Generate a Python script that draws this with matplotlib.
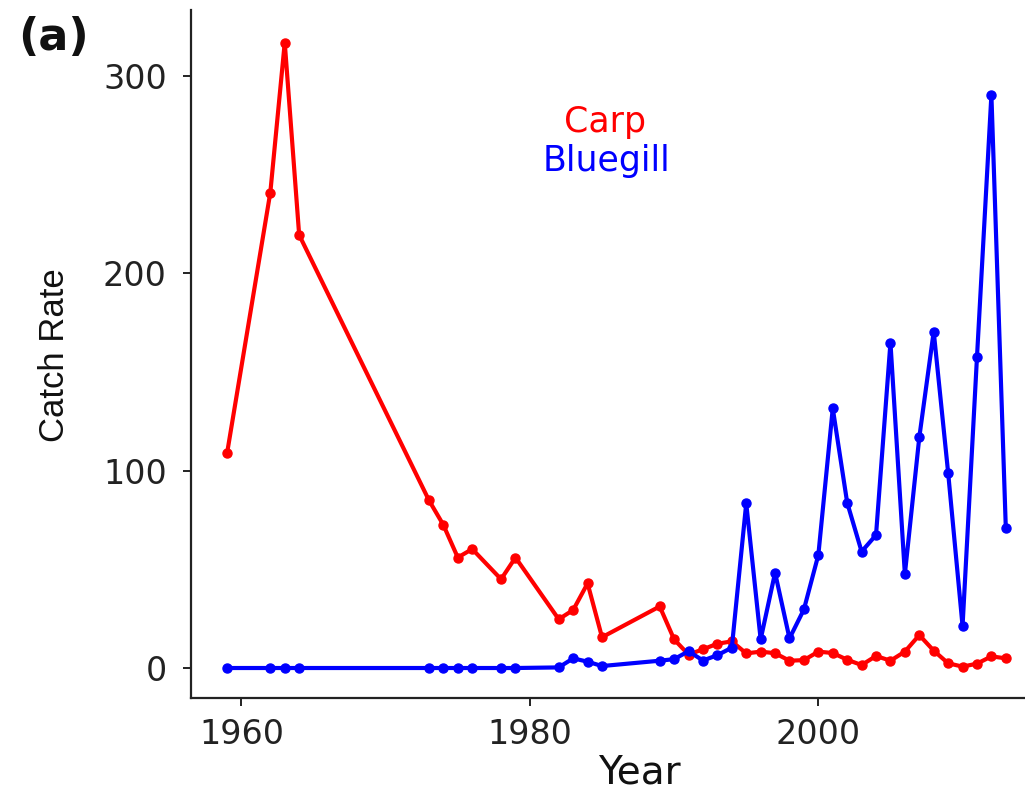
import matplotlib
matplotlib.use("Agg")
import matplotlib.pyplot as plt

years = [1959, 1962, 1963, 1964, 1973, 1974, 1975, 1976, 1978, 1979,
         1982, 1983, 1984, 1985, 1989, 1990, 1991, 1992, 1993, 1994,
         1995, 1996, 1997, 1998, 1999, 2000, 2001, 2002, 2003, 2004,
         2005, 2006, 2007, 2008, 2009, 2010, 2011, 2012, 2013]

carp = [108.8, 241, 317, 219.5, 85, 72.5, 56, 60.3, 45, 56,
        24.7, 29.4, 42.9, 15.6, 31.2, 14.5, 6.8, 9.5, 12.3, 13.5,
        7.4, 8.3, 7.5, 3.7, 4, 8.3, 7.6, 4.2, 1.5, 6.1,
        3.7, 8.3, 16.7, 8.8, 2.4, 0.7, 2.2, 5.9, 4.9]

bluegill = [0, 0, 0, 0, 0, 0, 0, 0, 0, 0,
            0.3, 4.9, 3.2, 1, 3.7, 4.5, 8.5, 3.8, 6.5, 10.3,
            83.5, 14.5, 48.3, 15, 29.7, 57.3, 131.6, 83.8, 59, 67.4,
            164.9, 47.6, 116.9, 170.5, 99, 21.3, 157.5, 290.4, 70.8]

y_ticks = [0, 100, 200, 300]
x_ticks = [1960, 1980, 2000]

W, H = 1025, 793
fig = plt.figure(figsize=(W / 100, H / 100), dpi=100)
ax = fig.add_axes([191 / W, (H - 698) / H, (W - 191) / W, (698 - 10) / H])

ax.plot(years, carp, color="#FF0000", lw=3.0, marker="o", ms=6.5,
        solid_joinstyle="round")
ax.plot(years, bluegill, color="#0000FF", lw=3.0, marker="o", ms=6.5,
        solid_joinstyle="round")

ax.set_xlim(1956.5, 2014.33)
ax.set_ylim(-15.2, 333.5)
ax.set_xticks(x_ticks)
ax.set_yticks(y_ticks)

for s in ["top", "right"]:
    ax.spines[s].set_visible(False)
for s in ["left", "bottom"]:
    ax.spines[s].set_color("#222222")
    ax.spines[s].set_linewidth(1.6)

ax.tick_params(axis="both", length=5.5, width=1.4, color="#222222",
               labelsize=24, labelcolor="#222222")
ax.tick_params(axis="y", pad=12)
ax.tick_params(axis="x", pad=9)
for lab in ax.get_xticklabels() + ax.get_yticklabels():
    lab.set_family("DejaVu Sans")

ax.set_xlabel("Year", fontsize=28, family="DejaVu Sans", color="#111111")
ax.xaxis.set_label_coords(639 / W, (H - 772) / H, transform=fig.transFigure)
ax.xaxis.label.set_va("center")
ax.set_ylabel("Catch Rate", fontsize=25, family="Liberation Sans", color="#111111")
ax.yaxis.set_label_coords(54 / W, (H - 355) / H, transform=fig.transFigure)
ax.yaxis.label.set_va("center")

fig.text(605 / W, (H - 122) / H, "Carp", color="#FF0000", fontsize=25,
         family="DejaVu Sans", ha="center", va="center")
fig.text(607 / W, (H - 161) / H, "Bluegill", color="#0000FF", fontsize=25,
         family="DejaVu Sans", ha="center", va="center")
fig.text(53 / W, (H - 37) / H, "(a)", color="#111111", fontsize=32,
         family="DejaVu Sans", fontweight="bold", ha="center", va="center")

fig.savefig("out.png", dpi=100)
